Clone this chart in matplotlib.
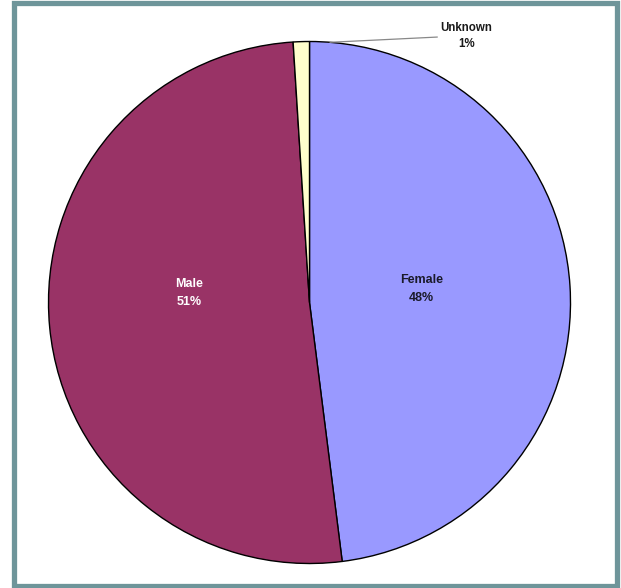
import matplotlib
matplotlib.use("Agg")
import matplotlib.pyplot as plt
from matplotlib.patches import Rectangle

# Gender breakdown (percent)
categories = ["Female", "Male", "Unknown"]
shares = [48, 51, 1]
colors = ["#9999ff", "#993366", "#ffffcc"]
label_colors = ["#1a1a2a", "#ffffff", "#1a1a1a"]

W, H = 621, 588
fig = plt.figure(figsize=(W / 100, H / 100), dpi=100)
fig.patch.set_facecolor("white")

# Axes covers the whole figure; limits chosen so one data unit = pie radius
R_PX = 261.0
CX, CY = 309.5, 302.5
ax = fig.add_axes([0, 0, 1, 1])

wedges, _ = ax.pie(
    shares,
    colors=colors,
    startangle=90,
    counterclock=False,
    radius=1.0,
    wedgeprops=dict(edgecolor="black", linewidth=1.0),
)
ax.set_xlim(-CX / R_PX, (W - CX) / R_PX)
ax.set_ylim(-(H - CY) / R_PX, CY / R_PX)
ax.set_aspect("auto")
ax.axis("off")

font = dict(family=["Liberation Sans", "DejaVu Sans"], fontweight="bold",
            ha="center", va="center")

# In-slice labels for the two large wedges
inside_pos = {"Female": (0.429, 0.052), "Male": (-0.462, 0.036)}
for name, val, col in zip(categories, shares, label_colors):
    if name in inside_pos:
        x, y = inside_pos[name]
        ax.text(x, y, f"{name}\n{val}%", color=col, fontsize=9,
                linespacing=1.6, **font)

# Outside label with leader line for the small wedge
ax.plot([0.079, 0.489], [0.997, 1.017], color="#888888", linewidth=0.9)
ax.text(0.60, 1.021, f"{categories[2]}\n{shares[2]}%", color=label_colors[2],
        fontsize=8.3, linespacing=1.5, **font)

# Frame around the chart
border = Rectangle((13.5 / W, 2.5 / H), (617 - 13.5) / W, (585.5 - 2.5) / H,
                   transform=fig.transFigure, fill=False,
                   edgecolor="#6e959a", linewidth=3.8)
fig.patches.append(border)

fig.savefig("out.png", dpi=100)
